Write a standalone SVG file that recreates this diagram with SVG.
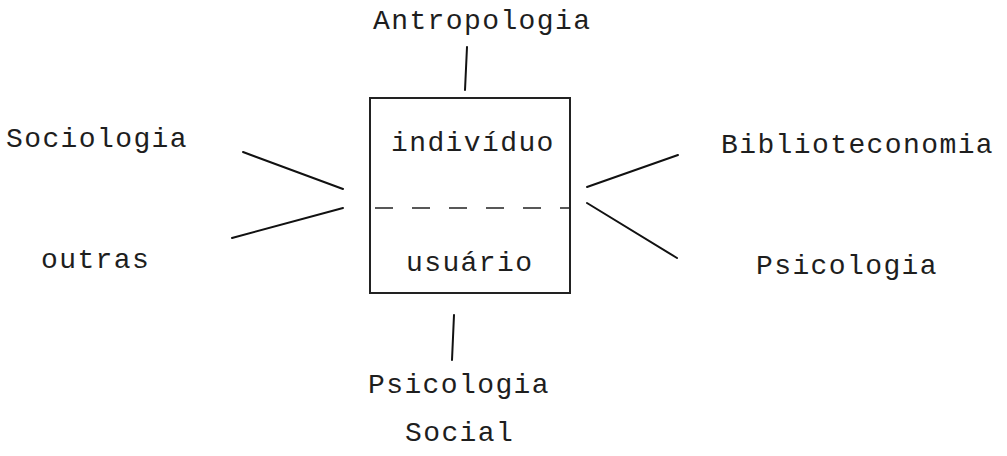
<svg xmlns="http://www.w3.org/2000/svg" width="1007" height="456" viewBox="0 0 1007 456">
<style>
text{font-family:"Liberation Mono","DejaVu Sans Mono",monospace;font-size:28px;letter-spacing:1.4px;fill:#1e1e1e}
.ln{stroke:#111;stroke-width:2;fill:none;stroke-linecap:round}
.box{stroke:#222;stroke-width:2;fill:none}
.dash{stroke:#222;stroke-width:1.6;stroke-dasharray:18 19;fill:none}
</style>
<rect width="1007" height="456" fill="#fff"/>
<g id="center">
<rect class="box" x="370" y="98" width="200" height="195"/>
<line class="dash" x1="371" y1="208" x2="569" y2="208" stroke-dashoffset="-4"/>
<text x="391" y="151">indivíduo</text>
<text x="406" y="271">usuário</text>
</g>
<g id="antropologia"><text x="373" y="29">Antropologia</text></g>
<g id="sociologia"><text x="6" y="147">Sociologia</text></g>
<g id="outras"><text x="41" y="268">outras</text></g>
<g id="biblioteconomia"><text x="721" y="153">Biblioteconomia</text></g>
<g id="psicologia"><text x="756" y="274">Psicologia</text></g>
<g id="psicologia-social"><text x="368" y="393">Psicologia</text><text x="405" y="441">Social</text></g>
<g id="connectors">
<line class="ln" x1="467" y1="47" x2="465" y2="90"/>
<line class="ln" x1="454" y1="315" x2="452" y2="360"/>
<line class="ln" x1="243" y1="152" x2="343" y2="189"/>
<line class="ln" x1="232" y1="238" x2="343" y2="208"/>
<line class="ln" x1="587" y1="187" x2="678" y2="155"/>
<line class="ln" x1="587" y1="203" x2="677" y2="258"/>
</g>
</svg>
